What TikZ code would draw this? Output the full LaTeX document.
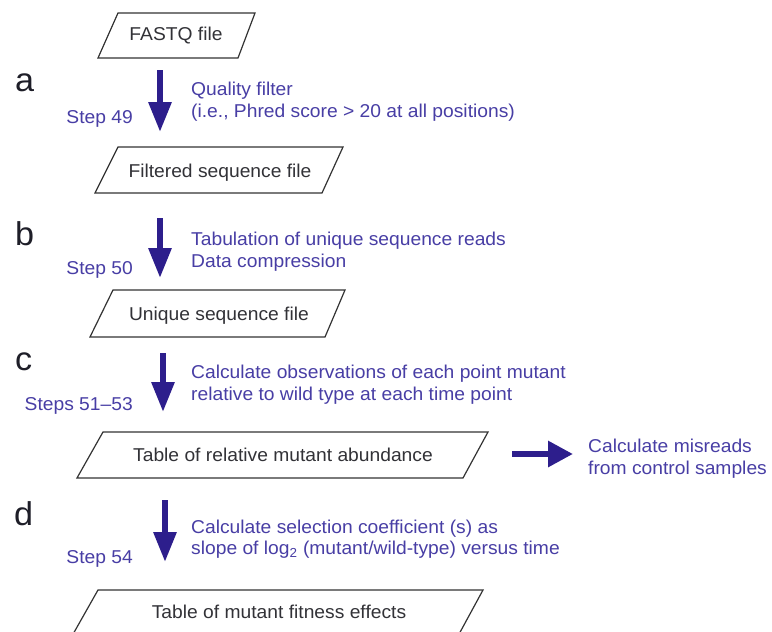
\documentclass[tikz,border=0pt]{standalone}
\usepackage{fontspec}
\setmainfont[FakeStretch=1.035]{Liberation Sans}
\usetikzlibrary{arrows.meta}
\definecolor{arrowblue}{RGB}{45,30,140}
\definecolor{labelblue}{RGB}{72,62,165}
\definecolor{boxtext}{RGB}{50,50,55}
\definecolor{lettercol}{RGB}{30,30,40}
\begin{document}
\begin{tikzpicture}[x=1pt,y=-1pt,
  box/.style={draw=black!80, line width=1.2pt, line join=miter},
  boxlabel/.style={text=boxtext, font=\fontsize{18.6}{21}\selectfont, inner sep=0pt, anchor=base},
  sidelabel/.style={text=labelblue, font=\fontsize{18.6}{21}\selectfont, anchor=base west, inner sep=0pt},
  steplabel/.style={text=labelblue, font=\fontsize{18.6}{21}\selectfont, anchor=base east, inner sep=0pt},
  panel/.style={text=lettercol, font=\fontsize{33}{33}\selectfont, anchor=base west, inner sep=0pt},
  bigarrow/.style={draw=arrowblue, line width=6pt, -{Triangle[width=22pt,length=30pt]}},
  sidearrow/.style={draw=arrowblue, line width=6pt, -{Triangle[width=25pt,length=25pt]}}]
\useasboundingbox (0,0) rectangle (772,632);
\fill[white] (0,0) rectangle (772,632);
\clip (0,0) rectangle (772,632);

% boxes
\draw[box] (118,13) -- (255,13) -- (238,58) -- (98,58) -- cycle;
\node[boxlabel] (fastq) at (176,40) {FASTQ file};

\draw[box] (118,147) -- (343,147) -- (322,193) -- (95,193) -- cycle;
\node[boxlabel] (filtered) at (220,177) {Filtered sequence file};

\draw[box] (113,290) -- (345,290) -- (325,337) -- (90,337) -- cycle;
\node[boxlabel] (unique) at (219,320) {Unique sequence file};

\draw[box] (103,432) -- (488,432) -- (463,478) -- (77,478) -- cycle;
\node[boxlabel] (relative) at (283,461) {Table of relative mutant abundance};

\draw[box] (98,590) -- (483,590) -- (458,636) -- (72,636) -- cycle;
\node[boxlabel] (fitness) at (279,618) {Table of mutant fitness effects};

% panel letters
\node[panel] (pa) at (15,91) {a};
\node[panel] (pb) at (15,245) {b};
\node[panel] (pc) at (15,370) {c};
\node[panel] (pd) at (14,525) {d};

% arrows
\coordinate (a1) at (160,70);  \coordinate (a2) at (160,132);
\coordinate (b1) at (160,218); \coordinate (b2) at (160,278);
\coordinate (c1) at (163,353); \coordinate (c2) at (163,412);
\coordinate (d1) at (165,500); \coordinate (d2) at (165,562);
\coordinate (h1) at (512,454); \coordinate (h2) at (573,454);
\draw[bigarrow] (a1) -- (a2);
\draw[bigarrow] (b1) -- (b2);
\draw[bigarrow] (c1) -- (c2);
\draw[bigarrow] (d1) -- (d2);
\draw[sidearrow] (h1) -- (h2);

% step labels
\node[steplabel] (s49) at (133,123) {Step 49};
\node[steplabel] (s50) at (133,274) {Step 50};
\node[steplabel] (s51) at (133,410) {Steps 51–53};
\node[steplabel] (s54) at (133,563) {Step 54};

% side labels
\node[sidelabel] (qa1) at (191,95) {Quality filter};
\node[sidelabel] (qa2) at (191,117) {(i.e., Phred score > 20 at all positions)};
\node[sidelabel] (qb1) at (191,245) {Tabulation of unique sequence reads};
\node[sidelabel] (qb2) at (191,267) {Data compression};
\node[sidelabel] (qc1) at (191,378) {Calculate observations of each point mutant};
\node[sidelabel] (qc2) at (191,400) {relative to wild type at each time point};
\node[sidelabel] (qd1) at (191,533) {Calculate selection coefficient (s) as};
\node[sidelabel] (qd2) at (191,554) {slope of log\textsubscript{2} (mutant/wild-type) versus time};
\node[sidelabel] (qm1) at (588,452) {Calculate misreads};
\node[sidelabel] (qm2) at (588,474) {from control samples};
\end{tikzpicture}
\end{document}
